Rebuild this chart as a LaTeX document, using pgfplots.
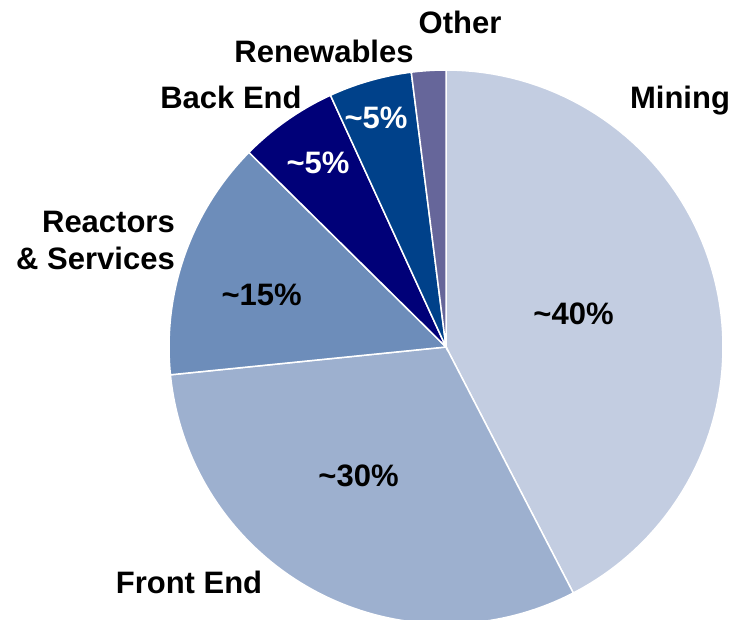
\documentclass[border=0pt]{standalone}
\usepackage{pgfplots}
\usepackage{pgfplotstable}
\usepackage{fontspec}
\setmainfont{Liberation Sans}
\pgfplotsset{compat=1.18}
\definecolor{cMining}{HTML}{C3CDE1}
\definecolor{cFront}{HTML}{9DB0CF}
\definecolor{cReact}{HTML}{6D8DBA}
\definecolor{cBack}{HTML}{000078}
\definecolor{cRenew}{HTML}{00418A}
\definecolor{cOther}{HTML}{66669A}
\pgfplotstableread{
seg value
Mining 42.4
FrontEnd 31.0
Reactors 14.0
BackEnd 5.75
Renewables 4.85
Other 2.0
}\piedata
\pgfplotstablegetelem{0}{value}\of\piedata\let\vA\pgfplotsretval
\pgfplotstablegetelem{1}{value}\of\piedata\let\vB\pgfplotsretval
\pgfplotstablegetelem{2}{value}\of\piedata\let\vC\pgfplotsretval
\pgfplotstablegetelem{3}{value}\of\piedata\let\vD\pgfplotsretval
\pgfplotstablegetelem{4}{value}\of\piedata\let\vE\pgfplotsretval
\pgfplotstablegetelem{5}{value}\of\piedata\let\vF\pgfplotsretval
\pgfmathsetmacro\aA{90}
\pgfmathsetmacro\aB{\aA-3.6*\vA}
\pgfmathsetmacro\aC{\aB-3.6*\vB}
\pgfmathsetmacro\aD{\aC-3.6*\vC}
\pgfmathsetmacro\aE{\aD-3.6*\vD}
\pgfmathsetmacro\aF{\aE-3.6*\vE}
\pgfmathsetmacro\aG{\aF-3.6*\vF}
\def\cx{446}\def\cy{272}\def\rr{277}
\tikzset{lab/.style={font=\fontsize{31}{35}\selectfont\bfseries, inner sep=0pt}}
\begin{document}%
\begin{tikzpicture}
\begin{axis}[
  width=733pt, height=619pt, scale only axis,
  xmin=0, xmax=733, ymin=0, ymax=619,
  hide axis,
]
\addplot[fill=cMining, draw=white, line width=1.5pt, domain=\aB:\aA, samples=80, variable=\t]
  ({\cx+\rr*cos(t)},{\cy+\rr*sin(t)}) -- (\cx,\cy) -- cycle;
\addplot[fill=cFront, draw=white, line width=1.5pt, domain=\aC:\aB, samples=80, variable=\t]
  ({\cx+\rr*cos(t)},{\cy+\rr*sin(t)}) -- (\cx,\cy) -- cycle;
\addplot[fill=cReact, draw=white, line width=1.5pt, domain=\aD:\aC, samples=40, variable=\t]
  ({\cx+\rr*cos(t)},{\cy+\rr*sin(t)}) -- (\cx,\cy) -- cycle;
\addplot[fill=cBack, draw=white, line width=1.5pt, domain=\aE:\aD, samples=20, variable=\t]
  ({\cx+\rr*cos(t)},{\cy+\rr*sin(t)}) -- (\cx,\cy) -- cycle;
\addplot[fill=cRenew, draw=white, line width=1.5pt, domain=\aF:\aE, samples=20, variable=\t]
  ({\cx+\rr*cos(t)},{\cy+\rr*sin(t)}) -- (\cx,\cy) -- cycle;
\addplot[fill=cOther, draw=white, line width=1.5pt, domain=\aG:\aF, samples=10, variable=\t]
  ({\cx+\rr*cos(t)},{\cy+\rr*sin(t)}) -- (\cx,\cy) -- cycle;

\node[lab, anchor=base] at (axis cs:680,510.7) {Mining};
\node[lab, anchor=base] at (axis cs:189,25.7) {Front End};
\node[lab, anchor=base east] at (axis cs:175,386.3) {Reactors};
\node[lab, anchor=base east] at (axis cs:175,349) {\& Services};
\node[lab, anchor=base] at (axis cs:231,510.7) {Back End};
\node[lab, anchor=base] at (axis cs:324,556.3) {Renewables};
\node[lab, anchor=base] at (axis cs:460,585.7) {Other};
\node[lab, anchor=base] at (axis cs:573.5,295) {\char`\~40\%};
\node[lab, anchor=base] at (axis cs:358.5,132.3) {\char`\~30\%};
\node[lab, anchor=base] at (axis cs:261.7,314) {\char`\~15\%};
\node[lab, anchor=base, text=white] at (axis cs:318,445.7) {\char`\~5\%};
\node[lab, anchor=base, text=white] at (axis cs:376,490.7) {\char`\~5\%};
\end{axis}
\pgfresetboundingbox
\useasboundingbox (current axis.south west) rectangle (current axis.north east);
\end{tikzpicture}%
\end{document}
